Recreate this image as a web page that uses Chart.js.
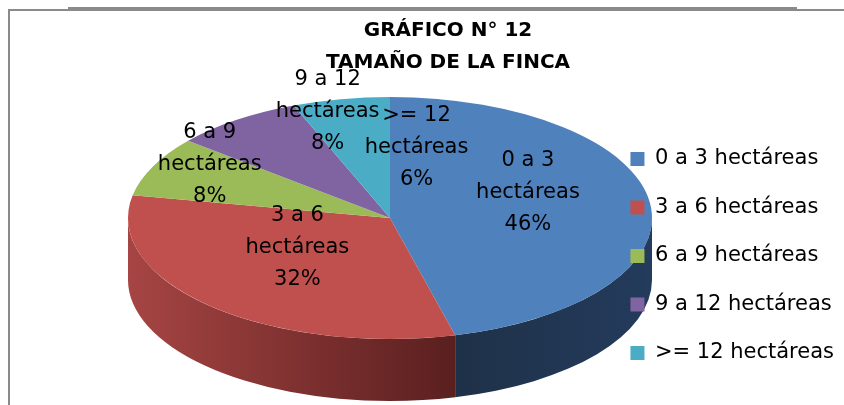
<!DOCTYPE html>
<html>
<head>
<meta charset="utf-8">
<script src="https://cdn.jsdelivr.net/npm/chart.js@4/dist/chart.umd.min.js"></script>
<style>
  html, body { margin: 0; padding: 0; background: #ffffff; overflow: hidden; }
  #wrap { position: relative; width: 844px; height: 405px; }
  #c { position: absolute; left: 0; top: 0; }
  .ln { position: absolute; background: #8a8a8a; }
</style>
</head>
<body>
<div id="wrap">
  <canvas id="c" width="844" height="405"></canvas>
  <div class="ln" style="left:68px; top:7px; width:729px; height:2px;"></div>
  <div class="ln" style="left:8px; top:9px; width:836px; height:2px;"></div>
  <div class="ln" style="left:8px; top:9px; width:2px; height:396px;"></div>
</div>
<script>
// ---- data ----
const categories = ['0 a 3 hectáreas', '3 a 6 hectáreas', '6 a 9 hectáreas', '9 a 12 hectáreas', '>= 12 hectáreas'];
const percentages = [46, 32, 8, 8, 6];
const titleLines = ['GRÁFICO N° 12', 'TAMAÑO DE LA FINCA'];

// ---- styles ----
const topColors = ['#4f81bd', '#c0504d', '#9bbb59', '#8064a2', '#4bacc6'];
const sideColors = [['#1f3148', '#233b5c'], ['#a64543', '#5a1f1f'], ['#6f8a3c', '#55692d'], ['#5b4677', '#48375e'], ['#327f93', '#286677']];
const labelNudge = [[-18, -11], [15, -18], [-38, -17], [30, -42], [56, 6]];
const FONT = 'DejaVu Sans';

const pie3d = {
  id: 'pie3d',
  beforeDatasetsDraw(chart, args, o) {
    const meta = chart.getDatasetMeta(0);
    const ctx = chart.ctx;
    // visible front sides (canvas angles 0..PI)
    meta.data.forEach((arc, i) => {
      const s = Math.max(arc.startAngle, 0);
      const e = Math.min(arc.endAngle, Math.PI);
      if (e <= s) return;
      const x1 = o.cx + o.rx * Math.cos(e), x2 = o.cx + o.rx * Math.cos(s);
      const g = ctx.createLinearGradient(Math.min(x1, x2), 0, Math.max(x1, x2), 0);
      const sc = o.sideColors[i];
      g.addColorStop(0, sc[0]);
      g.addColorStop(1, sc[1]);
      ctx.save();
      ctx.beginPath();
      ctx.ellipse(o.cx, o.cy, o.rx, o.ry, 0, s, e, false);
      ctx.ellipse(o.cx, o.cy + o.depth, o.rx, o.ry, 0, e, s, true);
      ctx.closePath();
      ctx.fillStyle = g;
      ctx.fill();
      ctx.restore();
    });
    const a0 = meta.data[0];
    const R = a0.outerRadius;
    ctx.save();
    ctx.translate(o.cx, o.cy);
    ctx.scale(o.rx / R, o.ry / R);
    ctx.translate(-a0.x, -a0.y);
  },
  afterDatasetsDraw(chart, args, o) {
    const ctx = chart.ctx;
    ctx.restore();
    const meta = chart.getDatasetMeta(0);
    const vals = chart.data.datasets[0].data;
    const total = vals.reduce((a, b) => a + b, 0);
    ctx.save();
    ctx.font = '21px "' + FONT + '"';
    ctx.fillStyle = '#000';
    ctx.textAlign = 'center';
    ctx.textBaseline = 'alphabetic';
    meta.data.forEach((arc, i) => {
      const mid = (arc.startAngle + arc.endAngle) / 2;
      const x = o.cx + o.rx * o.labelR * Math.cos(mid) + o.labelNudge[i][0];
      const y = o.cy + o.ry * o.labelR * Math.sin(mid) + o.labelNudge[i][1];
      const name = chart.data.labels[i].replace(' hectáreas', '');
      const pct = Math.round(vals[i] / total * 100) + '%';
      const lines = [name, 'hectáreas', pct];
      lines.forEach((t, k) => ctx.fillText(t, x, y + (k - 1) * o.lineGap));
    });
    ctx.restore();
  }
};

const chart = new Chart(document.getElementById('c'), {
  type: 'pie',
  data: {
    labels: categories,
    datasets: [{
      data: percentages,
      backgroundColor: topColors,
      borderWidth: 0,
      clip: false
    }]
  },
  options: {
    responsive: false,
    devicePixelRatio: 1,
    animation: false,
    events: [],
    layout: { padding: { left: 52, right: 0, top: 0, bottom: 0 } },
    plugins: {
      tooltip: { enabled: false },
      title: {
        display: true,
        text: titleLines,
        color: '#000',
        font: { family: FONT, size: 20, weight: 'bold', lineHeight: 1.6 },
        padding: { top: 15, bottom: 42 }
      },
      legend: {
        position: 'right',
        align: 'start',
        fullSize: false,
        labels: {
          color: '#000',
          font: { family: FONT, size: 21 },
          boxWidth: 14,
          boxHeight: 14,
          padding: 27.5
        }
      },
      pie3d: {
        cx: 390, cy: 218, rx: 262, ry: 121, depth: 62,
        sideColors: sideColors,
        labelR: 0.6,
        labelNudge: labelNudge,
        lineGap: 32
      }
    }
  },
  plugins: [pie3d]
});

// draw the legend above the pie (as in the original, legend boxes overlap the pie edge)
const lg = chart.legend;
lg._layers = function () {
  return [{ z: 1, draw: (area) => lg.draw(area) }];
};
chart.update('none');
</script>
</body>
</html>
